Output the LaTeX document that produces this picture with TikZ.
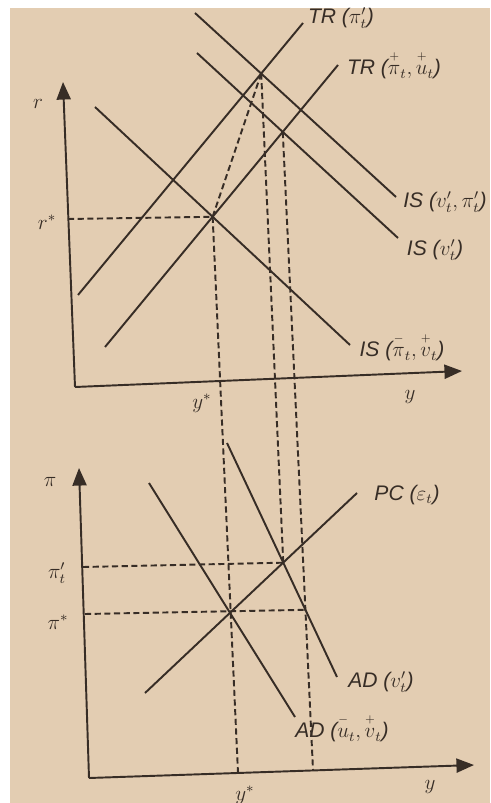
\documentclass[tikz,border=0pt]{standalone}
\usepackage{amsmath,amssymb}
\usepackage{xcolor}
\usepackage{fontspec}
\setmainfont{Liberation Sans}
\usepackage{tikz}
\usetikzlibrary{arrows.meta}
\definecolor{PaperTan}{RGB}{227,205,178}
\definecolor{InkBrown}{RGB}{55,45,38}
\newcommand{\plusover}[1]{\overset{\raisebox{1.2pt}{$\scriptscriptstyle+$}}{#1}}
\newcommand{\minusover}[1]{\overset{\raisebox{1.2pt}{$\scriptscriptstyle-$}}{#1}}

\begin{document}
\begin{tikzpicture}[
  x=0.02cm, y=-0.02cm,
  axis/.style={line width=1.1pt, draw=InkBrown, -{Triangle[length=10pt,width=8pt]}},
  curve/.style={line width=1.1pt, draw=InkBrown},
  guide/.style={line width=1.1pt, draw=InkBrown, dash pattern=on 3.5pt off 2pt},
  lbl/.style={text=InkBrown, font=\fontsize{12}{14}\selectfont\itshape, inner sep=0pt}
]
\fill[white] (0,0) rectangle (490,803);
\fill[PaperTan] (10,8) rectangle (490,803);
\useasboundingbox (0,0) rectangle (490,803);

\coordinate (o1) at (75,387);
\coordinate (rtip) at (63,82);
\coordinate (y1tip) at (462,371);
\coordinate (tra) at (78,295);
\coordinate (trb) at (303,23);
\coordinate (tua) at (105,347);
\coordinate (tub) at (338,65);
\coordinate (isa) at (195,13);
\coordinate (isb) at (396,197);
\coordinate (iva) at (197,53);
\coordinate (ivb) at (398,238);
\coordinate (ipa) at (95,107);
\coordinate (ipb) at (350,345);

\coordinate (o2) at (89,778);
\coordinate (pitip) at (79,468);
\coordinate (y2tip) at (474,765);
\coordinate (pca) at (145,693);
\coordinate (pcb) at (357,493);
\coordinate (ada) at (149,483);
\coordinate (adb) at (295,717);
\coordinate (ava) at (227,443);
\coordinate (avb) at (337,677);

\coordinate (E) at (intersection of tua--tub and ipa--ipb);
\coordinate (A) at (intersection of tra--trb and isa--isb);
\coordinate (D) at (intersection of tua--tub and iva--ivb);
\coordinate (F) at (intersection of pca--pcb and ada--adb);
\coordinate (P) at (intersection of pca--pcb and ava--avb);
\coordinate (ystar) at (238,773);
\coordinate (ytwo) at (313,770);
\coordinate (Q) at (intersection of D--ytwo and ava--avb);
\coordinate (rstar) at (68,219);
\coordinate (pione) at (83,567);
\coordinate (pistar) at (85,614);

\draw[axis] (o1) -- (rtip);
\draw[axis] (o1) -- (y1tip);
\draw[axis] (o2) -- (pitip);
\draw[axis] (o2) -- (y2tip);

\draw[curve] (tra) -- (trb);
\draw[curve] (tua) -- (tub);
\draw[curve] (isa) -- (isb);
\draw[curve] (iva) -- (ivb);
\draw[curve] (ipa) -- (ipb);
\draw[curve] (pca) -- (pcb);
\draw[curve] (ada) -- (adb);
\draw[curve] (ava) -- (avb);

\draw[guide] (rstar) -- (E);
\draw[guide] (A) -- (E);
\draw[guide] (E) -- (ystar);
\draw[guide] (A) -- (P);
\draw[guide] (D) -- (ytwo);
\draw[guide] (pione) -- (P);
\draw[guide] (pistar) -- (Q);

\node[lbl] (ltrp) at (341,18) {TR ($\pi_t'$)};
\node[lbl] (ltru) at (394,65) {TR ($\plusover{\pi}_t, \plusover{u}_t$)};
\node[lbl] (lisvp) at (445,202) {IS ($v_t', \pi_t'$)};
\node[lbl] (lisv) at (435,250) {IS ($v_t'$)};
\node[lbl] (lispi) at (402,347) {IS ($\minusover{\pi}_t, \plusover{v}_t$)};
\node[lbl] (lpc) at (407,495) {PC ($\varepsilon_t$)};
\node[lbl] (ladv) at (381,682) {AD ($v_t'$)};
\node[lbl] (ladu) at (342,728) {AD ($\minusover{u}_t, \plusover{v}_t$)};

\node[lbl] (lr) at (38,104) {$r$};
\node[lbl] (lrstar) at (47,222) {$r^*$};
\node[lbl] (ly1) at (410,397) {$y$};
\node[lbl] (lystar1) at (202,403) {$y^*$};
\node[lbl] (lpi) at (50,482) {$\pi$};
\node[lbl] (lpione) at (57,573) {$\pi_t'$};
\node[lbl] (lpistar) at (58,622) {$\pi^*$};
\node[lbl] (ly2) at (430,787) {$y$};
\node[lbl] (lystar2) at (245,795) {$y^*$};
\end{tikzpicture}
\end{document}
